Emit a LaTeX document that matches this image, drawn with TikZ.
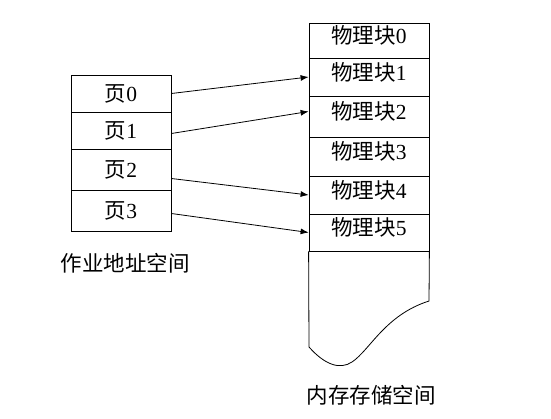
\documentclass[tikz,border=0pt]{standalone}
\usepackage{fontspec}
\setmainfont{Liberation Serif}
\newfontfamily\cjk{Noto Sans CJK SC}
\usetikzlibrary{arrows.meta, positioning}

\begin{document}
\begin{tikzpicture}[
  x=1pt, y=-1pt,
  every node/.style={font=\fontsize{21.5}{24}\selectfont},
  cell/.style={rectangle, draw, line width=0.8pt, minimum width=#1, inner sep=0pt},
  blk/.style={cell=120, text depth=12pt},
  map/.style={line width=0.8pt, -{Latex[length=8pt, width=6pt]}},
]
\useasboundingbox (0,0) rectangle (551,418);

% Job address space
\node[cell=100, minimum height=37] (p0) at (121, 93.5) {{\cjk 页}0};
\node[cell=100, minimum height=37] (p1) at (121, 130.5) {{\cjk 页}1};
\node[cell=100, minimum height=41] (p2) at (121, 169.5) {{\cjk 页}2};
\node[cell=100, minimum height=41] (p3) at (121, 210.5) {{\cjk 页}3};
\node (jobspace) at (125, 263) {\cjk 作业地址空间};

% Memory blocks
\node[blk, minimum height=35] (b0) at (369, 40.5) {{\cjk 物理块}0};
\node[blk, minimum height=38] (b1) at (369, 77) {{\cjk 物理块}1};
\node[blk, minimum height=41] (b2) at (369, 116.5) {{\cjk 物理块}2};
\node[blk, minimum height=39] (b3) at (369, 156.5) {{\cjk 物理块}3};
\node[blk, minimum height=38] (b4) at (369, 195) {{\cjk 物理块}4};
\node[blk, minimum height=37] (b5) at (369, 232.5) {{\cjk 物理块}5};

% Torn bottom of memory
\coordinate (cutL) at (309, 347);
\coordinate (cutR) at (429, 301);
\draw[line width=0.8pt] (b5.south west) -- (cutL)
  .. controls (325, 365) and (340, 370) .. (352, 362)
  .. controls (370, 350) and (385, 315) .. (cutR) -- (b5.south east);
\node (memspace) at (371, 395) {\cjk 内存存储空间};

% Page to block mapping
\draw[map] (p0.east) -- (b1.west);
\draw[map] ([yshift=-3pt]p1.east) -- ([yshift=5pt]b2.west);
\draw[map] ([yshift=-9pt]p2.east) -- (b4.west);
\draw[map] ([yshift=-3pt]p3.east) -- (b5.west);

\end{tikzpicture}
\end{document}
